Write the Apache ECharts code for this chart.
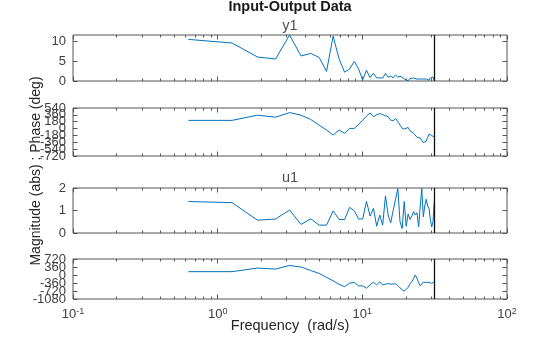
<!DOCTYPE html>
<html><head><meta charset="utf-8">
<script src="https://cdn.jsdelivr.net/npm/echarts@6/dist/echarts.min.js"></script>
<style>html,body{margin:0;padding:0;background:#fff}#c{width:560px;height:337px}</style>
</head><body><div id="c"></div>
<script>
const freq = [0.628,1.257,1.885,2.513,3.142,3.770,4.398,5.027,5.655,6.283,6.912,7.540,8.168,8.796,9.425,10.053,10.681,11.310,11.938,12.566,13.195,13.823,14.451,15.080,15.708,16.336,16.965,17.593,18.221,18.850,19.478,20.106,20.735,21.363,21.991,22.619,23.248,23.876,24.504,25.133,25.761,26.389,27.018,27.646,28.274,28.903,29.531,30.159,30.788,31.416];
const y1Mag = [10.4,9.5,6.0,5.5,11.5,6.25,6.9,5.9,2.4,11.2,5.5,2.2,3.0,4.9,3.0,0.25,2.7,0.85,1.9,0.8,0.8,0.7,1.9,0.95,1.2,0.8,1.5,0.95,1.2,0.9,0.5,0.4,0.05,0.6,0.1,0.75,0.25,0.5,0.9,0.5,0.1,0.5,0.7,0.5,0.1,0.2,0.75,0.4,1.0,0.1];
const y1Phase = [215,215,351,299,420,351,239,91,-38,-170,-38,-124,4,4,110,221,325,410,307,363,395,363,338,312,221,203,265,182,91,6,-12,-10,30,-60,-100,-124,-170,-228,-200,-250,-300,-370,-409,-330,-230,-150,-108,-180,-228,-228];
const u1Mag = [1.40,1.35,0.57,0.62,1.02,0.38,0.63,0.35,0.35,0.98,0.6,0.6,1.14,0.99,0.62,0.62,1.41,0.75,1.1,0.3,0.8,0.35,1.65,0.8,0.45,1.0,1.5,1.98,0.5,0.2,1.4,0.3,0.85,0.6,0.75,0.95,0.8,0.9,0.27,1.2,1.98,0.72,1.2,1.5,1.2,1.1,0.6,0.27,0.5,1.4];
const u1Phase = [150,150,312,267,430,357,203,70,-105,-260,-423,-522,-368,-330,-490,-490,-595,-445,-323,-445,-308,-445,-415,-385,-415,-400,-400,-480,-580,-660,-717,-700,-560,-400,-300,-150,0,-150,-350,-490,-400,-320,-264,-330,-415,-330,-290,-380,-330,-300];

const xTicks = [0.1, 1, 10, 100];
const xMinorTicks = [0.2,0.3,0.4,0.5,0.6,0.7,0.8,0.9,2,3,4,5,6,7,8,9,20,30,40,50,60,70,80,90];
const y1MagTicks = [0, 5, 10];
const y1PhaseTicks = [-720,-540,-360,-180,0,180,360,540];
const u1MagTicks = [0, 1, 2];
const u1PhaseTicks = [-1080,-720,-360,0,360,720];
const nyquist = freq[freq.length - 1];

const FONT = '"Liberation Sans", Arial, Helvetica, sans-serif';
const TXT = '#404040';
const BOX = '#555555';

const chart = echarts.init(document.getElementById('c'), null, {renderer: 'canvas', width: 560, height: 337});
const L = 73, W = 434;
const panels = [
  {top: 35, height: 46, data: y1Mag, min: 0, max: 11.5, ticks: y1MagTicks},
  {top: 108, height: 48, data: y1Phase, min: -720, max: 540, ticks: y1PhaseTicks},
  {top: 188, height: 45, data: u1Mag, min: 0, max: 2, ticks: u1MagTicks},
  {top: 259, height: 40, data: u1Phase, min: -1080, max: 720, ticks: u1PhaseTicks}
];
// The phase tick labels overlap on purpose (as in the reference); each label group goes on its own axis
const labelGroups = ticks => {
  const groups = [[], [], []];
  ticks.forEach((t, k) => groups[k % 3].push(t));
  return groups.filter(g => g.length);
};
const grid = [], xAxis = [], yAxis = [], series = [];
panels.forEach((p, i) => {
  const isLast = i === panels.length - 1;
  grid.push({left: L, width: W, top: p.top, height: p.height, show: true, borderColor: BOX, borderWidth: 1, backgroundColor: 'transparent'});
  const baseX = {type: 'log', logBase: 10, min: 0.1, max: 100, gridIndex: i,
    axisLine: {show: false, onZero: false}, splitLine: {show: false}, minorTick: {show: false}, minorSplitLine: {show: false}};
  const tickMajor = {show: true, inside: true, length: 4.5, lineStyle: {color: BOX, width: 1}, customValues: xTicks};
  const tickMinor = {show: true, inside: true, length: 2.5, lineStyle: {color: BOX, width: 1}, customValues: xMinorTicks};
  xAxis.push(Object.assign({}, baseX, {position: 'bottom', axisTick: tickMajor,
    axisLabel: {show: isLast, customValues: xTicks, margin: 8, color: TXT, fontFamily: FONT,
      showMinLabel: true, showMaxLabel: true, hideOverlap: false,
      formatter: v => '{b|10}{s|' + Math.round(Math.log10(v)) + '}',
      rich: {b: {fontSize: 13, color: TXT, fontFamily: FONT}, s: {fontSize: 9, color: TXT, fontFamily: FONT, verticalAlign: 'top', padding: [0, 0, 6, 0]}}}}));
  xAxis.push(Object.assign({}, baseX, {position: 'bottom', axisTick: tickMinor, axisLabel: {show: false}}));
  xAxis.push(Object.assign({}, baseX, {position: 'top', axisTick: tickMajor, axisLabel: {show: false}}));
  xAxis.push(Object.assign({}, baseX, {position: 'top', axisTick: tickMinor, axisLabel: {show: false}}));
  const baseY = {type: 'value', gridIndex: i, min: p.min, max: p.max, axisLine: {show: false, onZero: false}, splitLine: {show: false},
    axisTick: {show: true, inside: true, length: 4.5, lineStyle: {color: BOX, width: 1}, customValues: p.ticks}};
  const seriesY = yAxis.length;
  labelGroups(p.ticks).forEach((g, gi) => {
    yAxis.push(Object.assign({}, baseY, {position: 'left', axisTick: gi === 0 ? baseY.axisTick : {show: false},
      axisLabel: {show: true, customValues: g, hideOverlap: false, showMinLabel: true, showMaxLabel: true,
        formatter: v => String(v), fontSize: 13, color: TXT, fontFamily: FONT, margin: 7}}));
  });
  yAxis.push(Object.assign({}, baseY, {position: 'right', axisLabel: {show: false}}));
  series.push({type: 'line', xAxisIndex: 4 * i, yAxisIndex: seriesY,
    data: freq.map((f, k) => [f, p.data[k]]), showSymbol: false, symbol: 'none', clip: true,
    lineStyle: {color: '#0072BD', width: 1}, animation: false,
    markLine: {silent: true, symbol: 'none', animation: false, label: {show: false},
      lineStyle: {color: '#111111', width: 1.3, type: 'solid'}, data: [{xAxis: nyquist}]}});
});

const gtext = (x, y, text, font, fill, rot) => ({type: 'text', x: x, y: y, rotation: rot || 0,
  style: {text: text, font: font, fill: fill, textAlign: 'center', textVerticalAlign: 'middle'}});

chart.setOption({
  animation: false,
  backgroundColor: '#ffffff',
  grid, xAxis, yAxis, series,
  graphic: [
    gtext(290, 7, 'Input-Output Data', 'bold 14.5px ' + FONT, '#1a1a1a'),
    gtext(290, 26, 'y1', '14.5px ' + FONT, '#4d4d4d'),
    gtext(290, 178, 'u1', '14.5px ' + FONT, '#4d4d4d'),
    gtext(290, 326, 'Frequency  (rad/s)', '14.5px ' + FONT, '#262626'),
    gtext(36, 171, 'Magnitude (abs) ; Phase (deg)', '14px ' + FONT, '#262626', Math.PI / 2)
  ]
});
</script></body></html>
